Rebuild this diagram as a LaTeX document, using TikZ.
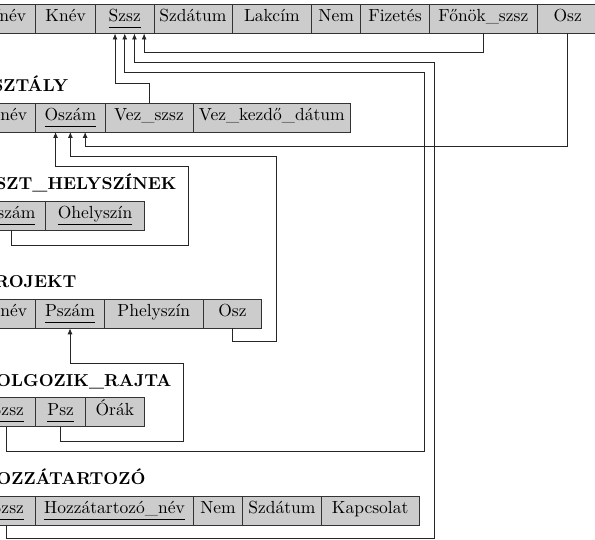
\documentclass[tikz,border=0pt]{standalone}
\usepackage{fontspec}
\setmainfont{lmroman10-regular.otf}[BoldFont=lmroman10-bold.otf]
\usetikzlibrary{arrows.meta}
\newcommand\ukey[1]{\leavevmode\setbox0=\hbox{#1}\rlap{\rule[-6.3pt]{\wd0}{0.8pt}}\box0}
\newcommand\cel[5]{\node[cellbox, minimum width={(#3)-(#2)}] (#1) at ({((#2)+(#3))/2},{(#4)+14.5}) {#5};}
\begin{document}
\begin{tikzpicture}[x=1pt,y=-1pt,
  every node/.style={font=\fontsize{17.5}{20}\selectfont},
  cellbox/.style={draw=black!80, fill=black!20, line width=0.8pt, inner sep=0pt, outer sep=0pt,
    minimum height=29pt, text height=10pt, text depth=4pt},
  title/.style={anchor=base east, inner sep=0pt, font=\fontsize{17.3}{20}\selectfont\bfseries},
  fk/.style={draw=black!85, line width=0.8pt, -{Latex[length=6pt,width=5pt]}}]
\useasboundingbox (0,0) rectangle (595,540);
\clip (0,0) rectangle (595,540);
% DOLGOZO
\cel{d-vnev}{-22}{35.7}{4.5}{Vnév}
\cel{d-knev}{35.7}{95.5}{4.5}{Knév}
\cel{d-szsz}{95.5}{154}{4.5}{\ukey{Szsz}}
\cel{d-szdatum}{154}{232}{4.5}{Szdátum}
\cel{d-lakcim}{232}{311.7}{4.5}{Lakcím}
\cel{d-nem}{311.7}{360.7}{4.5}{Nem}
\cel{d-fizetes}{360.7}{429.3}{4.5}{Fizetés}
\cel{d-fonok}{429.3}{537.3}{4.5}{Főnök\_szsz}
\cel{d-osz}{537.3}{598}{4.5}{Osz}
% OSZTALY
\node[title] (t-osztaly) at (68.3,91.5) {OSZTÁLY};
\cel{o-onev}{-22}{35.7}{103}{Onév}
\cel{o-oszam}{35.7}{105}{103}{\ukey{Oszám}}
\cel{o-vez}{105}{193}{103}{Vez\_szsz}
\cel{o-vezk}{193}{350.5}{103}{Vez\_kezdő\_dátum}
% OSZT_HELYSZINEK
\node[title] (t-oszth) at (176.7,190) {OSZT\_HELYSZÍNEK};
\cel{oh-oszam}{-26.5}{45.7}{201}{\ukey{Oszám}}
\cel{oh-ohely}{45.7}{144.5}{201}{\ukey{Ohelyszín}}
% PROJEKT
\node[title] (t-projekt) at (76.7,288) {PROJEKT};
\cel{p-pnev}{-20.3}{35.7}{299.3}{Pnév}
\cel{p-pszam}{35.7}{104.3}{299.3}{\ukey{Pszám}}
\cel{p-phely}{104.3}{203.3}{299.3}{Phelyszín}
\cel{p-osz}{203.3}{261.7}{299.3}{Osz}
% DOLGOZIK_RAJTA
\node[title] (t-dr) at (171.7,386.5) {DOLGOZIK\_RAJTA};
\cel{dr-szsz}{-20}{35.7}{397.8}{\ukey{Szsz}}
\cel{dr-psz}{35.7}{85.7}{397.8}{\ukey{Psz}}
\cel{dr-orak}{85.7}{144}{397.8}{Órák}
% HOZZATARTOZO
\node[title] (t-hz) at (145.7,484.5) {HOZZÁTARTOZÓ};
\cel{hz-szsz}{-20}{35.7}{496.3}{\ukey{Szsz}}
\cel{hz-nev}{35.7}{193.3}{496.3}{\ukey{Hozzátartozó\_név}}
\cel{hz-nem}{193.3}{242.7}{496.3}{Nem}
\cel{hz-szdatum}{242.7}{321}{496.3}{Szdátum}
\cel{hz-kapcs}{321}{419.3}{496.3}{Kapcsolat}
% arrow targets
\coordinate (sz0) at ([xshift=-9.7pt]d-szsz.south);
\coordinate (sz1) at ([xshift=0pt]d-szsz.south);
\coordinate (sz2) at ([xshift=9.7pt]d-szsz.south);
\coordinate (sz3) at ([xshift=19.4pt]d-szsz.south);
\coordinate (os0) at ([xshift=-14.8pt]o-oszam.south);
\coordinate (os1) at ([xshift=0pt]o-oszam.south);
\coordinate (os2) at ([xshift=14.8pt]o-oszam.south);
% foreign keys
\draw[fk] (d-fonok.south) -- ++(0,19) -| (sz3);
\draw[fk] ([xshift=-1.35pt]hz-szsz.south) |- (434,538.3) -- (434,62.5) -| (sz2);
\draw[fk] ([xshift=-1.15pt]dr-szsz.south) |- (424.3,451.5) -- (424.3,72.5) -| (sz1);
\draw[fk] (o-vez.north) -- ++(0,-19.7) -| (sz0);
\draw[fk] (d-osz.south) -- ++(0,113) -| (os2);
\draw[fk] (p-osz.south) |- (276.7,341.5) -- (276.7,156) -| (os1);
\draw[fk] ([xshift=2pt]oh-oszam.south) |- (188.3,245.3) -- (188.3,166.3) -| (os0);
\draw[fk] (dr-psz.south) |- (183.3,441.7) -- (183.3,363.3) -| (p-pszam.south);
\end{tikzpicture}
\end{document}
